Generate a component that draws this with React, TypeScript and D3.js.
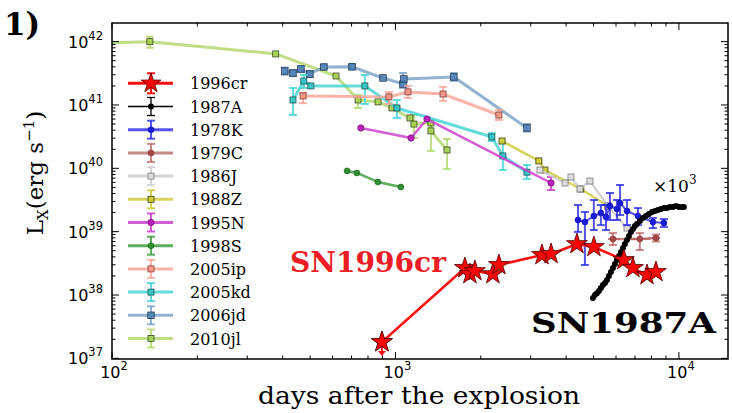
import React from "react";
import * as d3 from "d3";

const W = 732, H = 413;
const PL = 112, PR = 728, PT = 23, PB = 359;

// ---------- data (days after explosion, L_X in erg/s) ----------
const names = ["1996cr","1987A","1978K","1979C","1986J","1988Z","1995N","1998S","2005ip","2005kd","2006jd","2010jl"];

const sn1996crDays = [896, 1758, 1831, 1907, 2206, 2317, 3288, 3540, 4368, 5012, 6393, 6883, 7717, 8298];
const sn1996crLum = [1.81e37, 2.67e38, 2.14e38, 2.39e38, 2.14e38, 2.98e38, 4.28e38, 4.44e38, 6.38e38, 5.73e38, 3.57e38, 2.67e38, 2.07e38, 2.31e38];

const sn1987ADays = [4973,5055,5137,5221,5307,5394,5483,5572,5664,5756,5850,5947,6044,6143,6243,6346,6450,6556,6663,6772,6883,6996,7111,7287,7466,7651,7840,8034,8231,8434,8643,8856,9075,9299,9524,9759,10000,10247,10413];
const sn1987ALum = [8.96e37,1.0e38,1.07e38,1.16e38,1.29e38,1.44e38,1.55e38,1.72e38,2.0e38,2.31e38,2.67e38,3.09e38,3.57e38,4.13e38,4.77e38,5.52e38,6.38e38,7.39e38,8.54e38,9.88e38,1.10e39,1.23e39,1.32e39,1.47e39,1.64e39,1.77e39,1.90e39,2.04e39,2.12e39,2.20e39,2.28e39,2.36e39,2.36e39,2.45e39,2.45e39,2.54e39,2.45e39,2.45e39,2.45e39];

const sn1978KDays = [4406, 4660, 5010, 5305, 5530, 5710, 6045, 6200, 6560, 7170, 8095, 8850];
const sn1978KLum = [1.53e39, 1.42e39, 1.77e39, 1.97e39, 1.71e39, 2.54e39, 2.28e39, 2.84e39, 2.12e39, 1.77e39, 1.42e39, 1.37e39];
const sn1978KLo = [9.9e38, 2.98e38, 1.06e39, 1.27e39, 1.06e39, 1.53e39, 1.53e39, 1.83e39, 1.27e39, 1.27e39, 1.14e39, 1.19e39];
const sn1978KHi = [2.64e39, 2.05e39, 3.16e39, 2.64e39, 2.64e39, 4.08e39, 3.16e39, 5.46e39, 3.16e39, 2.36e39, 1.64e39, 1.58e39];

const sn1979CDays = [5850, 7280, 8300];
const sn1979CLum = [7.66e38, 7.66e38, 7.94e38];
const sn1979CLo = [6.17e38, 5.14e38, 7.0e38];
const sn1979CHi = [9.5e38, 9.5e38, 9.0e38];
const sn1979CDaysLo = [5619, 6720, 7904];
const sn1979CDaysHi = [6193, 7904, 8600];

const sn1986JDays = [3234, 3966, 4161, 4475, 4855, 5616, 6560];
const sn1986JLum = [9.4e39, 5.87e39, 7.3e39, 4.72e39, 6.3e39, 2.54e39, 1.14e39];

const sn1988ZDays = [2377, 3206, 3368, 4508, 5616];
const sn1988ZLum = [2.7e40, 1.31e40, 9.4e39, 4.72e39, 2.54e39];

const sn1995NDays = [755, 1135, 1292, 3540];
const sn1995NLum = [4.34e40, 3.01e40, 6.0e40, 5.87e39];
const sn1995NLo = [null, null, null, 4.55e39];
const sn1995NHi = [null, null, null, 7.3e39];

const sn1998SDays = [675, 731, 867, 1045];
const sn1998SLum = [9.1e39, 8.45e39, 6.1e39, 5.07e39];

const sn2005ipDays = [472, 948, 1107, 1472, 2317];
const sn2005ipLum = [1.39e41, 1.34e41, 1.61e41, 1.49e41, 6.95e40];
const sn2005ipLo = [1.07e41, 1.04e41, 1.29e41, 1.16e41, 5.8e40];
const sn2005ipHi = [1.55e41, 1.6e41, 2.0e41, 1.93e41, 8.3e40];

const sn2005kdDays = [435, 475, 503, 780, 1012, 2188, 2393, 2910];
const sn2005kdLum = [1.2e41, 2.39e41, 2.0e41, 2.0e41, 8.97e40, 3.13e40, 1.57e40, 8.7e39];
const sn2005kdLo = [6.95e40, 1.86e41, null, 1.04e41, 6.24e40, 2.7e40, 9.4e39, 6.8e39];
const sn2005kdHi = [1.86e41, 2.98e41, null, 2.98e41, 1.2e41, 3.6e40, 2.5e40, 1.13e40];

const sn2006jdDays = [407, 435, 464, 499, 559, 703, 904, 1063, 1071, 1607, 2910];
const sn2006jdLum = [3.44e41, 3.2e41, 3.7e41, 3.09e41, 3.98e41, 4.0e41, 2.67e41, 2.15e41, 2.58e41, 2.77e41, 4.34e40];
const sn2006jdLo = [3.0e41, 2.85e41, 3.3e41, 2.75e41, 3.7e41, 3.7e41, null, 1.86e41, null, 2.4e41, 3.8e40];
const sn2006jdHi = [3.9e41, 3.55e41, 4.1e41, 3.45e41, 4.3e41, 4.35e41, null, 3.2e41, null, 3.2e41, 5.0e40];

const sn2010jlDays = [50, 136, 378, 617, 738, 868, 972, 1125, 1162, 1334, 1334, 1520];
const sn2010jlLum = [8.9e41, 1.0e42, 6.4e41, 2.87e41, 1.2e41, 1.12e41, 8.98e40, 6.24e40, 5.0e40, 5.2e40, 3.9e40, 1.95e40];
const sn2010jlLo = [null, 8.0e41, null, null, 8.97e40, null, null, null, 3.0e40, null, 1.88e40, 9.8e39];
const sn2010jlHi = [null, 1.2e42, null, null, 1.44e41, null, null, null, 6.96e40, null, 5.2e40, 2.9e40];

const yTickExps = [37, 38, 39, 40, 41, 42];
const xTickExps = [2, 3, 4];

// ---------- scales ----------
const x = d3.scaleLog().domain([100, 14900]).range([PL, PR]);
const y = d3.scaleLog().domain([9.77e36, 1.97e42]).range([PB, PT]);

type Ser = {
  name: string; color: string; opacity: number; lw: number;
  marker: "square" | "circle" | "star" | "dot";
  mfill: string; medge: string; msize: number;
  days: number[]; lum: number[];
  lo?: (number | null)[]; hi?: (number | null)[];
  dlo?: number[]; dhi?: number[];
};

const series: Record<string, Ser> = {
  "2010jl": { name: "2010jl", color: "#a9d35e", opacity: 0.75, lw: 3, marker: "square", mfill: "#a6cf4f", medge: "#3a4a20", msize: 6, days: sn2010jlDays, lum: sn2010jlLum, lo: sn2010jlLo, hi: sn2010jlHi },
  "2006jd": { name: "2006jd", color: "#6d98c2", opacity: 0.75, lw: 3, marker: "square", mfill: "#4f84b8", medge: "#1f3550", msize: 6.5, days: sn2006jdDays, lum: sn2006jdLum, lo: sn2006jdLo, hi: sn2006jdHi },
  "2005kd": { name: "2005kd", color: "#3ed2d2", opacity: 0.8, lw: 3, marker: "square", mfill: "#30c4c4", medge: "#1a5050", msize: 6, days: sn2005kdDays, lum: sn2005kdLum, lo: sn2005kdLo, hi: sn2005kdHi },
  "2005ip": { name: "2005ip", color: "#f7a293", opacity: 0.8, lw: 3, marker: "square", mfill: "#f69484", medge: "#7a3a30", msize: 6, days: sn2005ipDays, lum: sn2005ipLum, lo: sn2005ipLo, hi: sn2005ipHi },
  "1998S": { name: "1998S", color: "#3f9f3f", opacity: 0.85, lw: 2.5, marker: "circle", mfill: "#2f8f2f", medge: "#1f5f1f", msize: 3, days: sn1998SDays, lum: sn1998SLum },
  "1995N": { name: "1995N", color: "#cc40cc", opacity: 0.85, lw: 2.5, marker: "circle", mfill: "#bb22bb", medge: "#661166", msize: 3.2, days: sn1995NDays, lum: sn1995NLum, lo: sn1995NLo, hi: sn1995NHi },
  "1988Z": { name: "1988Z", color: "#cccc40", opacity: 0.85, lw: 2.5, marker: "square", mfill: "#cccc2a", medge: "#3a3a10", msize: 6, days: sn1988ZDays, lum: sn1988ZLum },
  "1986J": { name: "1986J", color: "#cfcfcf", opacity: 0.9, lw: 2.5, marker: "square", mfill: "#dddddd", medge: "#777777", msize: 6, days: sn1986JDays, lum: sn1986JLum },
  "1979C": { name: "1979C", color: "#b86060", opacity: 0.75, lw: 2.5, marker: "circle", mfill: "#a84848", medge: "#7a3030", msize: 3, days: sn1979CDays, lum: sn1979CLum, lo: sn1979CLo, hi: sn1979CHi, dlo: sn1979CDaysLo, dhi: sn1979CDaysHi },
  "1978K": { name: "1978K", color: "#2a2ae8", opacity: 0.8, lw: 2, marker: "circle", mfill: "#1a1ae0", medge: "#1010a0", msize: 3, days: sn1978KDays, lum: sn1978KLum, lo: sn1978KLo, hi: sn1978KHi },
  "1987A": { name: "1987A", color: "#000000", opacity: 1, lw: 1, marker: "dot", mfill: "#000000", medge: "#000000", msize: 3, days: sn1987ADays, lum: sn1987ALum },
  "1996cr": { name: "1996cr", color: "#ff1010", opacity: 1, lw: 2.5, marker: "star", mfill: "#ff0000", medge: "#4a0000", msize: 11, days: sn1996crDays, lum: sn1996crLum },
};

const drawOrder = ["2010jl", "2006jd", "2005kd", "2005ip", "1998S", "1995N", "1988Z", "1986J", "1979C", "1978K", "1987A", "1996cr"];

const starPath = (r: number) => d3.symbol(d3.symbolStar, (r * r) / 0.8908130915292852)()!;

function Marker({ s, cx, cy, scale = 1 }: { s: Ser; cx: number; cy: number; scale?: number }) {
  const m = s.msize * scale;
  if (s.marker === "square")
    return <rect x={cx - m / 2} y={cy - m / 2} width={m} height={m} fill={s.mfill} stroke={s.medge} strokeWidth={0.8} fillOpacity={0.9} />;
  if (s.marker === "circle")
    return <circle cx={cx} cy={cy} r={m} fill={s.mfill} stroke={s.medge} strokeWidth={0.6} />;
  if (s.marker === "dot") return <circle cx={cx} cy={cy} r={m} fill="#000" />;
  return <path d={starPath(m)} transform={`translate(${cx},${cy})`} fill={s.mfill} stroke={s.medge} strokeWidth={0.8} />;
}

function SeriesG({ s }: { s: Ser }) {
  const pts = s.days.map((d, i) => [x(d), y(s.lum[i])] as [number, number]);
  const line = d3.line()(pts)!;
  const cap = 4;
  return (
    <g>
      <path d={line} fill="none" stroke={s.color} strokeWidth={s.lw} strokeOpacity={s.opacity} strokeLinejoin="round" />
      {s.lo && s.hi && s.days.map((d, i) => {
        const lo = s.lo![i], hi = s.hi![i];
        if (lo == null || hi == null) return null;
        const cx = x(d), y1 = y(lo), y2 = y(hi);
        return (
          <g key={"e" + i} stroke={s.color} strokeOpacity={s.opacity} strokeWidth={2}>
            <line x1={cx} x2={cx} y1={y1} y2={y2} />
            <line x1={cx - cap} x2={cx + cap} y1={y1} y2={y1} />
            <line x1={cx - cap} x2={cx + cap} y1={y2} y2={y2} />
          </g>
        );
      })}
      {s.dlo && s.dhi && s.days.map((d, i) => {
        const cy = y(s.lum[i]);
        return <line key={"h" + i} x1={x(s.dlo![i])} x2={x(s.dhi![i])} y1={cy} y2={cy} stroke={s.color} strokeOpacity={s.opacity} strokeWidth={2} />;
      })}
      {pts.map(([cx, cy], i) => <Marker key={i} s={s} cx={cx} cy={cy} />)}
    </g>
  );
}

export default function App() {
  const ticksY: JSX.Element[] = [];
  for (let e = 36; e <= 42; e++) {
    for (let k = 1; k <= 9; k++) {
      const v = k * Math.pow(10, e);
      if (v < 9.77e36 || v > 1.97e42) continue;
      const len = k === 1 ? 7 : 3.5;
      const yy = y(v);
      ticksY.push(<line key={"yl" + e + k} x1={PL} x2={PL + len} y1={yy} y2={yy} />);
      ticksY.push(<line key={"yr" + e + k} x1={PR} x2={PR - len} y1={yy} y2={yy} />);
    }
  }
  const ticksX: JSX.Element[] = [];
  for (let e = 2; e <= 4; e++) {
    for (let k = 1; k <= 9; k++) {
      const v = k * Math.pow(10, e);
      if (v < 100 || v > 14900) continue;
      const len = k === 1 ? 7 : 3.5;
      const xx = x(v);
      ticksX.push(<line key={"xb" + e + k} x1={xx} x2={xx} y1={PB} y2={PB - len} />);
      ticksX.push(<line key={"xt" + e + k} x1={xx} x2={xx} y1={PT} y2={PT + len} />);
    }
  }

  const legendY0 = 83.3, legendDy = 23.2;
  const serif = "'DejaVu Serif', serif";
  const sans = "'DejaVu Sans', sans-serif";

  const upX = x(sn1996crDays[0]), upY = y(sn1996crLum[0]);

  return (
    <svg width={W} height={H} style={{ position: "absolute", left: 0, top: 0 }} xmlns="http://www.w3.org/2000/svg">
      <rect width={W} height={H} fill="#fff" />
      <defs>
        <clipPath id="plotclip"><rect x={PL} y={PT} width={PR - PL} height={PB - PT} /></clipPath>
      </defs>

      <g clipPath="url(#plotclip)">
        {drawOrder.map((k) => <SeriesG key={k} s={series[k]} />)}
        {/* upper limit arrow on first 1996cr point */}
        <line x1={upX} x2={upX} y1={upY} y2={upY + 11} stroke="#ff1010" strokeWidth={2} />
        <path d={`M${upX - 4},${upY + 9} L${upX + 4},${upY + 9} L${upX},${upY + 14} Z`} fill="#ff1010" />
        <Marker s={series["1996cr"]} cx={upX} cy={upY} />
      </g>

      {/* axes frame */}
      <rect x={PL} y={PT} width={PR - PL} height={PB - PT} fill="none" stroke="#000" strokeWidth={1.5} />
      <g stroke="#000" strokeWidth={1}>{ticksY}{ticksX}</g>

      {/* y tick labels */}
      {yTickExps.map((e) => (
        <text key={"ty" + e} x={103} y={y(Math.pow(10, e)) + 6} textAnchor="end" fontFamily={sans} fontSize={16} fill="#000">
          <tspan>10</tspan><tspan dy={-8} fontSize={11.5}>{e}</tspan>
        </text>
      ))}
      {/* x tick labels */}
      {xTickExps.map((e) => (
        <text key={"tx" + e} x={x(Math.pow(10, e)) + 2} y={378} textAnchor="middle" fontFamily={sans} fontSize={16} fill="#000">
          <tspan>10</tspan><tspan dy={-8} fontSize={11.5}>{e}</tspan>
        </text>
      ))}

      {/* axis labels */}
      <text x={419} y={404} textAnchor="middle" fontFamily={serif} fontSize={24} textLength={322} lengthAdjust="spacingAndGlyphs">days after the explosion</text>
      <text transform="translate(43,173) rotate(-90)" textAnchor="middle" fontFamily={serif} fontSize={23}>
        <tspan>L</tspan><tspan dy={5} fontSize={15}>X</tspan><tspan dy={-5}>(erg s</tspan><tspan dy={-9} fontSize={15}>−1</tspan><tspan dy={9}>)</tspan>
      </text>

      {/* panel label */}
      <text x={4} y={35} fontFamily={serif} fontWeight="bold" fontSize={31}>1)</text>

      {/* annotations */}
      <text x={290} y={272} fontFamily={serif} fontWeight="bold" fontSize={28} fill="#ee1c24" textLength={156} lengthAdjust="spacingAndGlyphs">SN1996cr</text>
      <text x={531} y={333} fontFamily={serif} fontWeight="bold" fontSize={28} fill="#000" textLength={185} lengthAdjust="spacingAndGlyphs">SN1987A</text>
      <text x={653} y={192} fontFamily={serif} fontSize={17} fill="#000">
        <tspan>×10</tspan><tspan dy={-8} fontSize={12}>3</tspan>
      </text>

      {/* legend */}
      {names.map((n, i) => {
        const s = series[n];
        const ly = legendY0 + i * legendDy;
        const cx = 151;
        return (
          <g key={"lg" + n}>
            <line x1={128} x2={173} y1={ly} y2={ly} stroke={s.color} strokeWidth={n === "1987A" ? 1.3 : 3} strokeOpacity={s.opacity} />
            {n !== "1996cr" && (
              <g stroke={s.color} strokeOpacity={s.opacity} strokeWidth={n === "1987A" ? 1.3 : 2}>
                <line x1={cx} x2={cx} y1={ly - 9} y2={ly + 9} />
                <line x1={cx - 4} x2={cx + 4} y1={ly - 9} y2={ly - 9} />
                <line x1={cx - 4} x2={cx + 4} y1={ly + 9} y2={ly + 9} />
              </g>
            )}
            {n === "1996cr" ? (
              <g>
                <g stroke={s.color} strokeWidth={2}>
                  <line x1={cx} x2={cx} y1={ly - 10} y2={ly + 10} />
                  <line x1={cx - 4} x2={cx + 4} y1={ly - 10} y2={ly - 10} />
                  <line x1={cx - 4} x2={cx + 4} y1={ly + 10} y2={ly + 10} />
                </g>
                <Marker s={s} cx={cx} cy={ly} scale={0.95} />
              </g>
            ) : (
              <Marker s={s} cx={cx} cy={ly} />
            )}
            <text x={190} y={ly + 6} fontFamily={serif} fontSize={16} fill="#000">{n}</text>
          </g>
        );
      })}
    </svg>
  );
}
